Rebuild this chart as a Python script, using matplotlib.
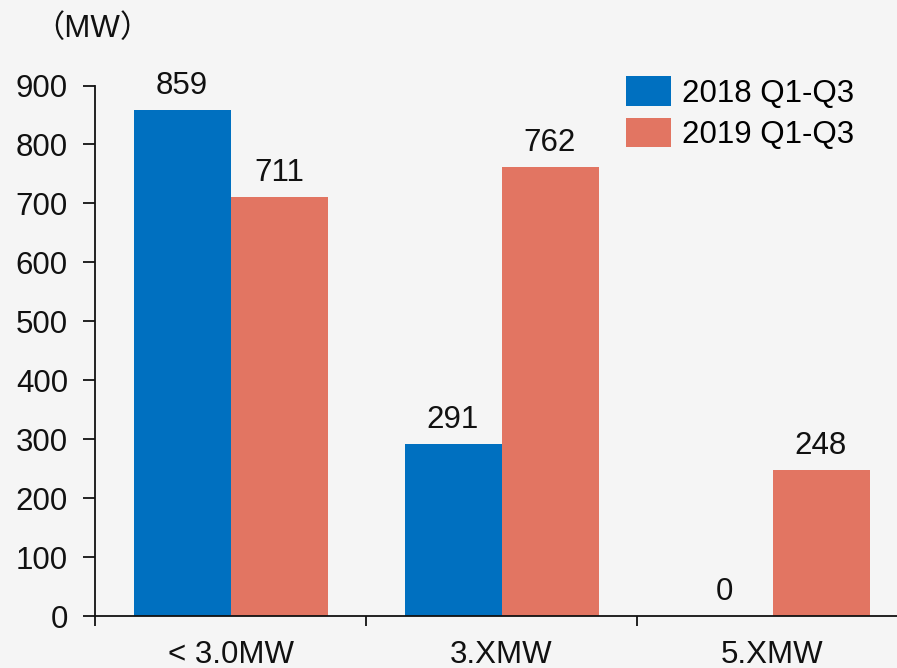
import matplotlib
matplotlib.use("Agg")
import matplotlib.pyplot as plt
import numpy as np

categories = ["< 3.0MW", "3.XMW", "5.XMW"]
series_names = ["2018 Q1-Q3", "2019 Q1-Q3"]
values_2018 = [859, 291, 0]
values_2019 = [711, 762, 248]
yticks = [0, 100, 200, 300, 400, 500, 600, 700, 800, 900]

colors = ["#0070C0", "#E27562"]
FONT = ["Liberation Sans", "Noto Sans CJK SC", "DejaVu Sans"]
plt.rcParams["font.family"] = FONT
FS = 22.5

W, H = 897, 668
fig = plt.figure(figsize=(W / 100, H / 100), dpi=100)
fig.patch.set_facecolor("#F5F5F5")

# axes: data -0.5 at 95px, 2.5 at 908px (cut by figure edge); y 0 at 616px, 900 at 85.5px
ax = fig.add_axes([95 / W, (H - 616) / H, (908 - 95) / W, (616 - 85.5) / H])
ax.set_facecolor("none")

x = np.arange(len(categories))
bw = 97 / 271
b1 = ax.bar(x - bw / 2, values_2018, bw, color=colors[0], label=series_names[0])
b2 = ax.bar(x + bw / 2, values_2019, bw, color=colors[1], label=series_names[1])

for bars, vals in ((b1, values_2018), (b2, values_2019)):
    for rect, v in zip(bars, vals):
        ax.annotate(f"{v}", (rect.get_x() + rect.get_width() / 2, v),
                    xytext=(0, 6.5), textcoords="offset points",
                    ha="center", va="bottom", fontsize=FS, color="#111111",
                    annotation_clip=False)

ax.set_xlim(-0.5, 2.5)
ax.set_ylim(0, 900)
ax.set_yticks(yticks)
ax.set_xticks(x)
ax.set_xticklabels(categories)
ax.set_xticks(np.arange(len(categories) + 1) - 0.5, minor=True)

for s in ("top", "right"):
    ax.spines[s].set_visible(False)
for s in ("left", "bottom"):
    ax.spines[s].set_linewidth(1.3)
    ax.spines[s].set_color("#111111")

ax.tick_params(axis="y", length=8.5, width=1.3, pad=11, labelsize=FS, colors="#111111")
ax.tick_params(axis="x", which="major", length=0, pad=17, labelsize=FS, colors="#111111")
ax.tick_params(axis="x", which="minor", length=7, width=1.3, color="#111111")

fig.text(33 / W, 1 - 29 / H, "（MW）", fontsize=FS, va="center", ha="left", color="#111111")

fs_px = FS * 100 / 72
leg = fig.legend(loc="upper left", bbox_to_anchor=(626 / W, 1 - 76 / H),
                 frameon=False, fontsize=FS, borderpad=0, borderaxespad=0,
                 handlelength=45 / fs_px, handleheight=34 / fs_px,
                 handletextpad=11 / fs_px, labelspacing=9 / fs_px)

fig.savefig("out.png", dpi=100, facecolor=fig.get_facecolor())
